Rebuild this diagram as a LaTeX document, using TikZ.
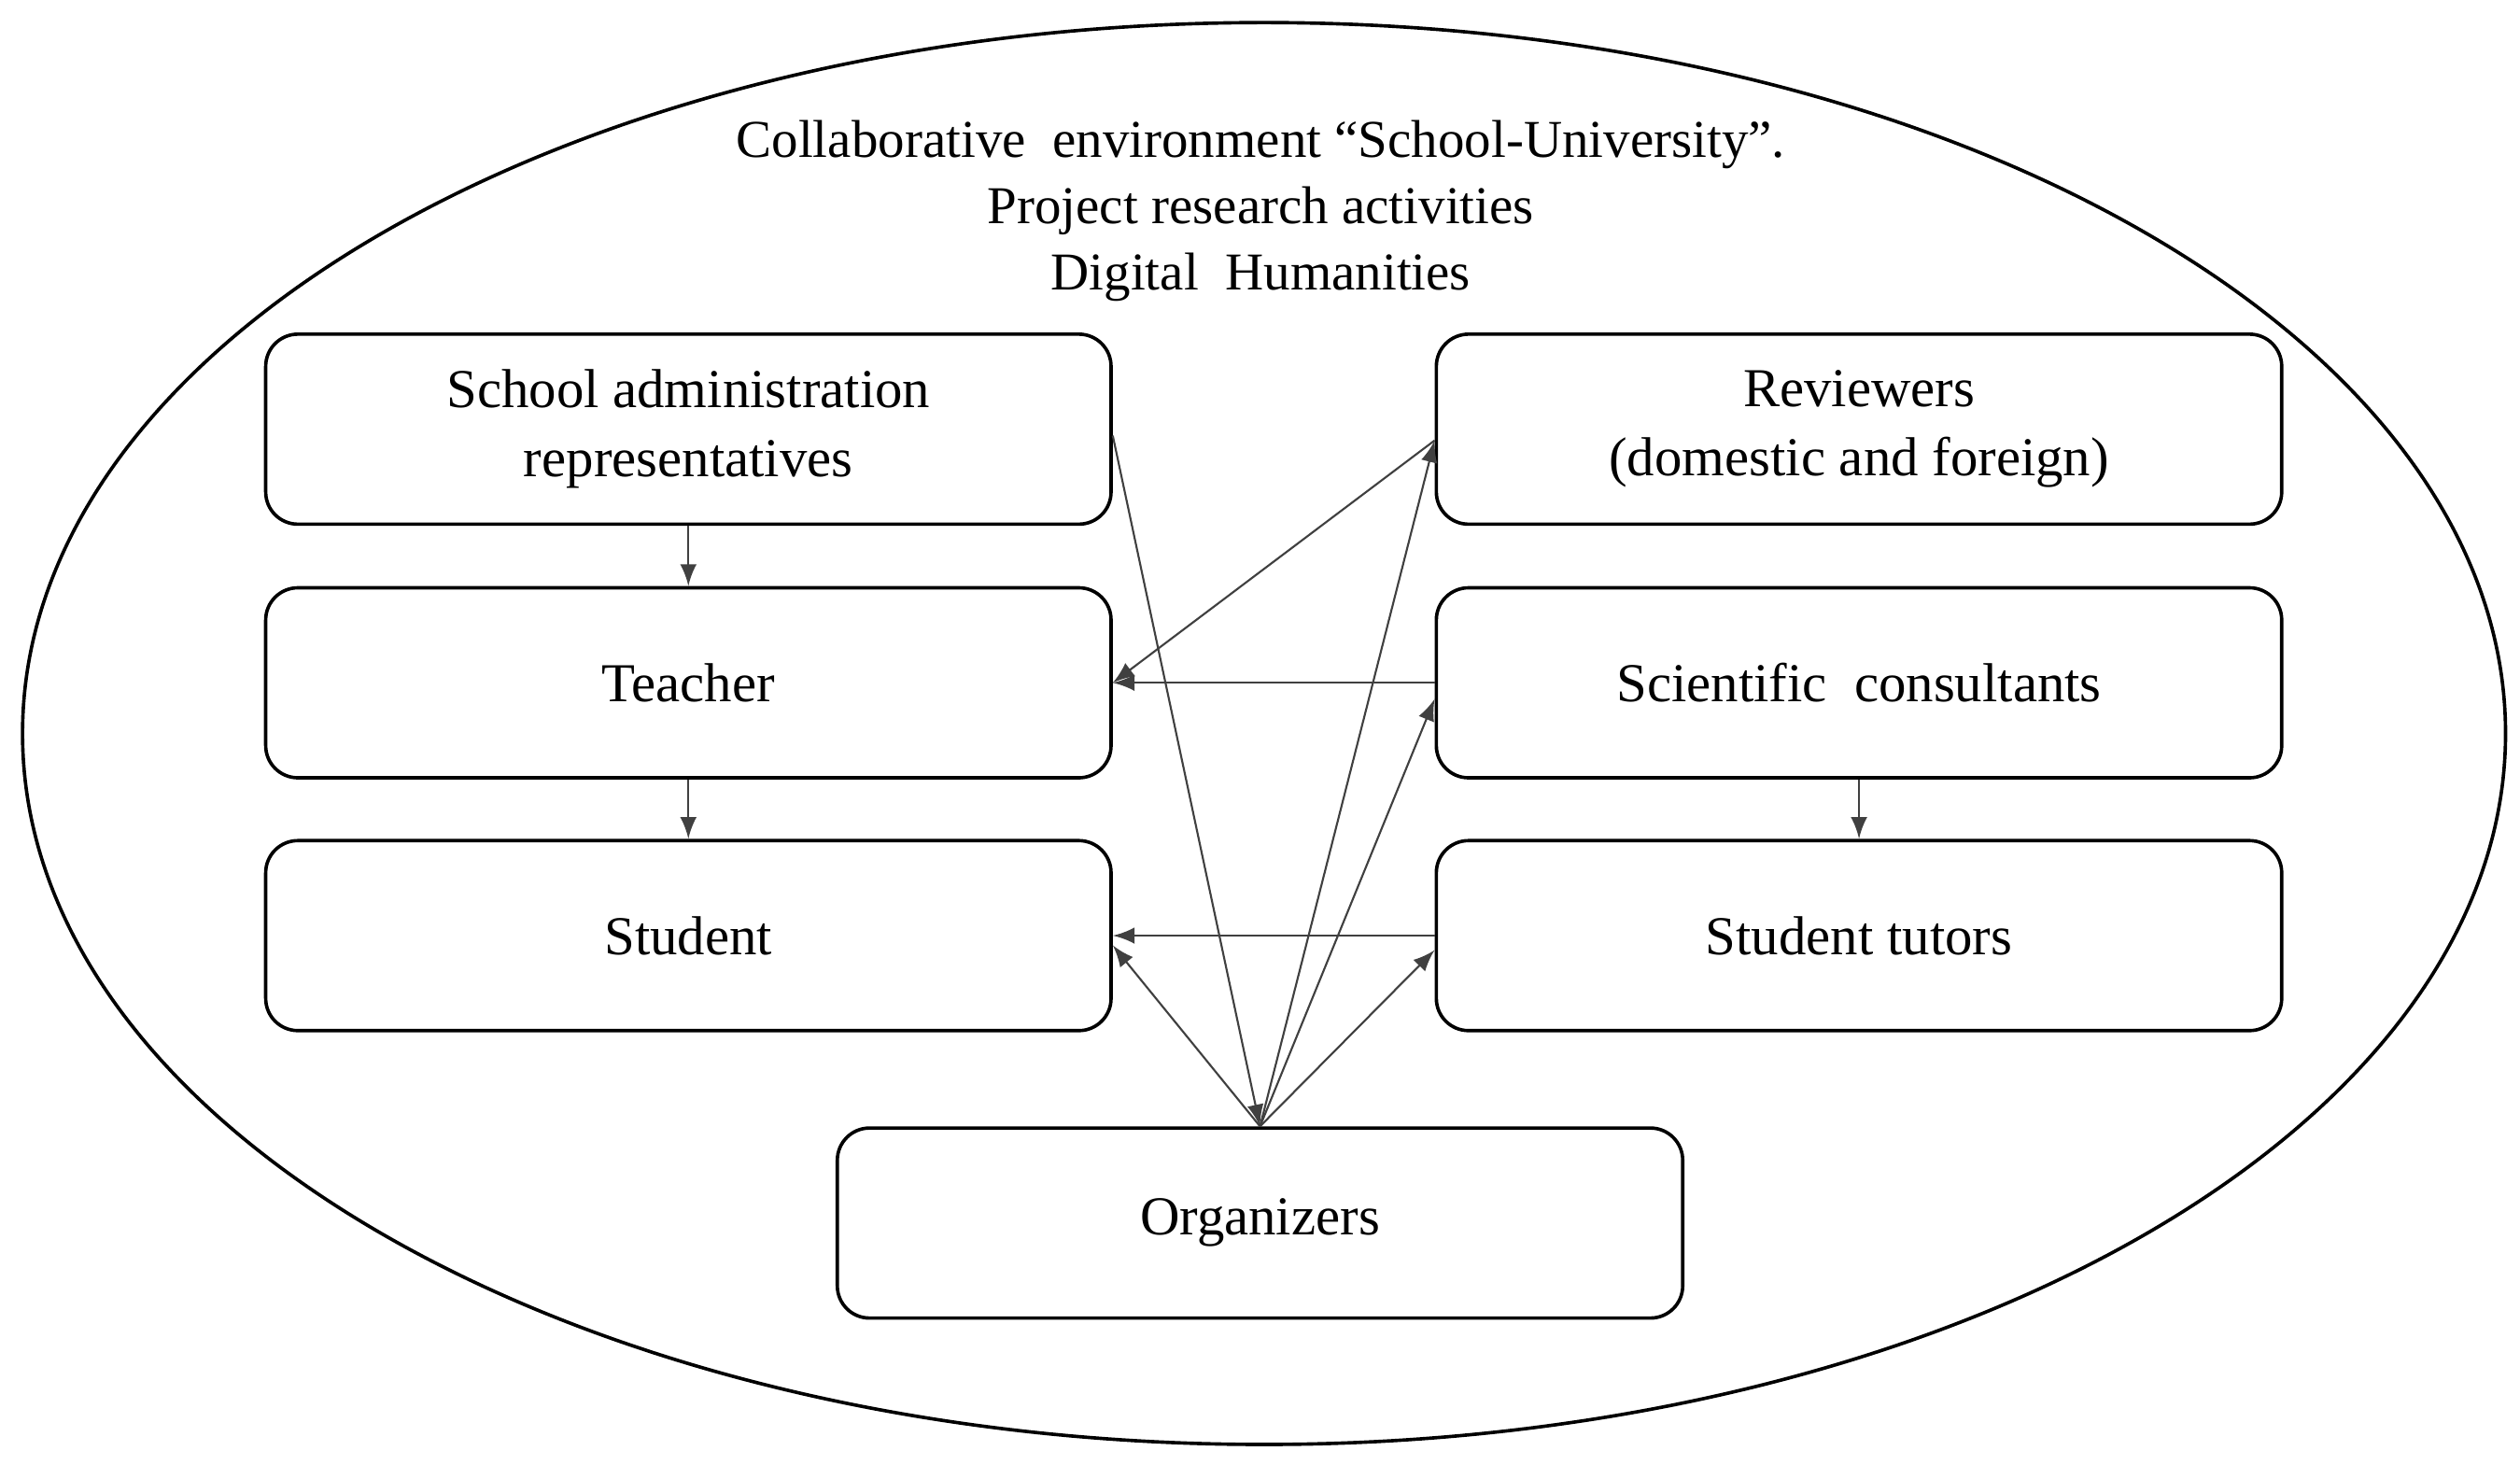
\documentclass[tikz,border=0pt]{standalone}
\usepackage{fontspec}
\setmainfont{Liberation Serif}
\usetikzlibrary{arrows}
\usetikzlibrary{calc}

\begin{document}
\begin{tikzpicture}[x=1cm, y=1cm]

  \tikzstyle{actor} = [draw, line width=0.6pt, rounded corners=0.2cm,
  minimum width=5.25cm, minimum height=1.18cm, align=center,
  font=\fontsize{9.7}{12.2}\selectfont]
  \tikzstyle{link} = [-latex, draw=black!75, line width=0.35pt]

\useasboundingbox (0,0) rectangle (15.65,-9.092);

\draw[line width=0.6pt] (7.85,-4.555) ellipse [x radius=7.71cm, y radius=4.415cm];

\node[align=center, font=\fontsize{9.4}{11.7}\selectfont] (title) at (7.83,-1.31)
  {Collaborative\ \ environment ``School-University''.\\Project research activities\\Digital\ \ Humanities};

% left column
\node[actor] (admin) at (4.275,-2.665) {School administration\\representatives};
\node[actor] (teacher) at (4.275,-4.24) {Teacher};
\node[actor] (student) at (4.275,-5.81) {Student};

% right column
\node[actor] (reviewers) at (11.545,-2.665) {Reviewers\\(domestic and foreign)};
\node[actor] (consult) at (11.545,-4.24) {Scientific\ \ consultants};
\node[actor] (tutors) at (11.545,-5.81) {Student tutors};

\node[actor] (organizers) at (7.825,-7.595) {Organizers};

\draw[link] (admin) -- (teacher);
\draw[link] (teacher) -- (student);
\draw[link] (consult) -- (tutors);

\draw[link] (consult.west) -- (teacher.east);
\draw[link] ([yshift=-0.07cm]reviewers.west) -- (teacher.east);
\draw[link] (tutors.west) -- (student.east);

\draw[link] ([yshift=-0.04cm]admin.east) -- (organizers.north);
\draw[link] (organizers.north) -- ([yshift=-0.07cm]reviewers.west);
\draw[link] (organizers.north) -- ([yshift=-0.1cm]consult.west);
\draw[link] (organizers.north) -- ([yshift=-0.09cm]tutors.west);
\draw[link] (organizers.north) -- ([yshift=-0.06cm]student.east);

\end{tikzpicture}
\end{document}
